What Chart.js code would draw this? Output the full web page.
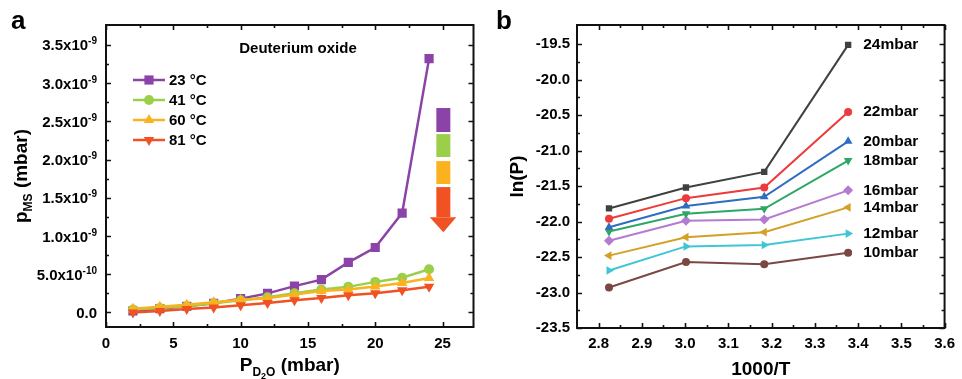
<!DOCTYPE html>
<html>
<head>
<meta charset="utf-8">
<script src="https://cdn.jsdelivr.net/npm/chart.js@4.4.1/dist/chart.umd.min.js"></script>
<style>
body { margin: 0; background: #fff; width: 962px; height: 379px; overflow: hidden; position: relative; }
canvas { position: absolute; top: 0; }
#chartA { left: 0; }
#chartB { left: 480px; }
</style>
</head>
<body>
<canvas id="chartA" width="480" height="379"></canvas>
<canvas id="chartB" width="482" height="379"></canvas>
<script>
// ---- panel a: p_MS vs P_D2O (values in units of 1e-9 mbar)
const pressures = [2, 4, 6, 8, 10, 12, 14, 16, 18, 20, 22, 24];
const pms23 = [0.02, 0.05, 0.08, 0.12, 0.18, 0.25, 0.345, 0.43, 0.655, 0.85, 1.30, 3.32];
const pms41 = [0.04, 0.06, 0.08, 0.12, 0.16, 0.20, 0.25, 0.30, 0.335, 0.40, 0.455, 0.565];
const pms60 = [0.05, 0.075, 0.10, 0.135, 0.165, 0.185, 0.235, 0.28, 0.30, 0.34, 0.385, 0.45];
const pms81 = [0.0, 0.02, 0.045, 0.065, 0.095, 0.125, 0.16, 0.19, 0.225, 0.25, 0.29, 0.335];
const tempLabels = ["23 °C", "41 °C", "60 °C", "81 °C"];
const xTicksA = [0, 5, 10, 15, 20, 25];
const yTicksA = [0, 0.5, 1.0, 1.5, 2.0, 2.5, 3.0, 3.5];
const yTickLabelsA = ["0.0", "5.0x10^-10", "1.0x10^-9", "1.5x10^-9", "2.0x10^-9", "2.5x10^-9", "3.0x10^-9", "3.5x10^-9"];

// ---- panel b: ln(P) vs 1000/T
const invT = [2.824, 3.002, 3.183, 3.377];
const ln24 = [-21.815, -21.52, -21.30, -19.51];
const ln22 = [-21.96, -21.67, -21.52, -20.455];
const ln20 = [-22.08, -21.78, -21.65, -20.87];
const ln18 = [-22.14, -21.89, -21.82, -21.14];
const ln16 = [-22.27, -21.99, -21.97, -21.56];
const ln14 = [-22.48, -22.22, -22.15, -21.80];
const ln12 = [-22.69, -22.35, -22.33, -22.17];
const ln10 = [-22.93, -22.57, -22.60, -22.44];
const mbarLabels = ["24mbar", "22mbar", "20mbar", "18mbar", "16mbar", "14mbar", "12mbar", "10mbar"];
const xTicksB = [2.8, 2.9, 3.0, 3.1, 3.2, 3.3, 3.4, 3.5, 3.6];
const yTicksB = [-23.5, -23.0, -22.5, -22.0, -21.5, -21.0, -20.5, -20.0, -19.5];

const FONT = "'Liberation Sans', Arial, sans-serif";

// frame + inward major/minor ticks on all four sides
const frameTicks = {
    id: "frameTicks",
    afterDraw(chart) {
        const { ctx, chartArea: a, scales: { x, y } } = chart;
        const minors = (majors, min, max) => {
            const step = majors[1] - majors[0];
            const out = [majors[0] - step / 2];
            majors.forEach(v => out.push(v + step / 2));
            return out.filter(v => v > min + step * 0.05 && v < max - step * 0.05);
        };
        const xMaj = x.ticks.map(t => t.value);
        const yMaj = y.ticks.map(t => t.value);
        ctx.save();
        ctx.strokeStyle = "#111";
        ctx.lineWidth = 1.6;
        const drawX = (vals, len) => vals.forEach(v => {
            const px = Math.round(x.getPixelForValue(v)) + 0.5;
            ctx.beginPath();
            ctx.moveTo(px, a.bottom); ctx.lineTo(px, a.bottom - len);
            ctx.moveTo(px, a.top); ctx.lineTo(px, a.top + len);
            ctx.stroke();
        });
        const drawY = (vals, len) => vals.forEach(v => {
            const py = Math.round(y.getPixelForValue(v)) + 0.5;
            ctx.beginPath();
            ctx.moveTo(a.left, py); ctx.lineTo(a.left + len, py);
            ctx.moveTo(a.right, py); ctx.lineTo(a.right - len, py);
            ctx.stroke();
        });
        drawX(xMaj, 5);
        drawY(yMaj, 5);
        drawX(minors(xMaj, x.min, x.max), 3);
        drawY(minors(yMaj, y.min, y.max), 3);
        ctx.lineWidth = 2;
        ctx.strokeRect(a.left, a.top, a.right - a.left, a.bottom - a.top);
        ctx.restore();
    },
};

// text made of parts with their own font and vertical shift (sub/superscripts)
function drawSubText(ctx, parts, x, y, align) {
    let w = 0;
    parts.forEach(p => { ctx.font = p.font; w += ctx.measureText(p.t).width; });
    let cx = align === "center" ? x - w / 2 : align === "right" ? x - w : x;
    ctx.textAlign = "left";
    parts.forEach(p => {
        ctx.font = p.font;
        ctx.fillText(p.t, cx, y + (p.dy || 0));
        cx += ctx.measureText(p.t).width;
    });
}

const annotA = {
    id: "annotA",
    afterDraw(chart) {
        const { ctx, chartArea: a, scales: { x, y } } = chart;
        ctx.save();
        ctx.fillStyle = "#000";
        ctx.textBaseline = "middle";
        ctx.font = `bold 26px ${FONT}`;
        ctx.textAlign = "left";
        ctx.fillText("a", 11, 22);

        // y tick labels with superscript exponents
        ctx.textBaseline = "alphabetic";
        y.ticks.forEach((t, i) => {
            const [base, exp] = yTickLabelsA[i].split("^");
            const py = y.getPixelForValue(t.value) + 5.5;
            const parts = [{ t: base, font: `bold 15px ${FONT}` }];
            if (exp) parts.push({ t: exp, font: `bold 10px ${FONT}`, dy: -6 });
            drawSubText(ctx, parts, a.left - 9, py, "right");
        });

        ctx.textBaseline = "middle";
        ctx.font = `bold 15px ${FONT}`;
        ctx.textAlign = "center";
        ctx.fillText("Deuterium oxide", 298, 49);

        // legend
        chart.data.datasets.forEach((ds, i) => {
            const ly = 80 + i * 20;
            ctx.strokeStyle = ds.borderColor;
            ctx.lineWidth = 2.5;
            ctx.beginPath();
            ctx.moveTo(133, ly); ctx.lineTo(165, ly);
            ctx.stroke();
            ctx.fillStyle = ds.borderColor;
            Chart.helpers.drawPoint(ctx, {
                pointStyle: ds.pointStyle, radius: ds.pointRadius,
                rotation: ds.pointRotation || 0, borderWidth: 0,
            }, 149, ly);
            ctx.fillStyle = "#000";
            ctx.textAlign = "left";
            ctx.font = `bold 15px ${FONT}`;
            ctx.fillText(ds.label, 169, ly + 1);
        });

        // colour arrow
        const bx0 = x.getPixelForValue(24.54), bx1 = x.getPixelForValue(25.58);
        const blocks = [[2.674, 2.36], [2.333, 2.033], [1.98, 1.68]];
        chart.data.datasets.slice(0, 3).forEach((ds, i) => {
            const t = y.getPixelForValue(blocks[i][0]), b = y.getPixelForValue(blocks[i][1]);
            ctx.fillStyle = ds.borderColor;
            ctx.fillRect(bx0, t, bx1 - bx0, b - t);
        });
        const red = chart.data.datasets[3].borderColor;
        ctx.fillStyle = red;
        const rt = y.getPixelForValue(1.64), rb = y.getPixelForValue(1.247);
        ctx.fillRect(bx0, rt, bx1 - bx0, rb - rt);
        ctx.beginPath();
        ctx.moveTo(x.getPixelForValue(24.05), rb);
        ctx.lineTo(x.getPixelForValue(26.02), rb);
        ctx.lineTo((bx0 + bx1) / 2, y.getPixelForValue(1.05));
        ctx.closePath();
        ctx.fill();

        // axis titles
        ctx.fillStyle = "#000";
        ctx.textBaseline = "alphabetic";
        drawSubText(ctx, [
            { t: "P", font: `bold 19px ${FONT}` },
            { t: "D", font: `bold 12px ${FONT}`, dy: 5 },
            { t: "2", font: `bold 9px ${FONT}`, dy: 8 },
            { t: "O", font: `bold 12px ${FONT}`, dy: 5 },
            { t: " (mbar)", font: `bold 19px ${FONT}` },
        ], (a.left + a.right) / 2, 371, "center");

        ctx.translate(27, (a.top + a.bottom) / 2);
        ctx.rotate(-Math.PI / 2);
        drawSubText(ctx, [
            { t: "p", font: `bold 19px ${FONT}` },
            { t: "MS", font: `bold 12px ${FONT}`, dy: 5 },
            { t: " (mbar)", font: `bold 19px ${FONT}` },
        ], 0, 0, "center");
        ctx.restore();
    },
};

const annotB = {
    id: "annotB",
    afterDraw(chart) {
        const { ctx, chartArea: a, scales: { x, y } } = chart;
        ctx.save();
        ctx.fillStyle = "#000";
        ctx.textBaseline = "middle";
        ctx.font = `bold 26px ${FONT}`;
        ctx.textAlign = "left";
        ctx.fillText("b", 16, 22);

        ctx.font = `bold 15.5px ${FONT}`;
        chart.data.datasets.forEach((ds) => {
            const last = ds.data[ds.data.length - 1];
            ctx.fillText(ds.label, x.getPixelForValue(last.x) + 15, y.getPixelForValue(last.y));
        });

        ctx.textBaseline = "alphabetic";
        ctx.textAlign = "center";
        ctx.font = `bold 19px ${FONT}`;
        ctx.fillText("1000/T", (a.left + a.right) / 2, 375);

        ctx.translate(43, (a.top + a.bottom) / 2);
        ctx.rotate(-Math.PI / 2);
        ctx.fillText("ln(P)", 0, 0);
        ctx.restore();
    },
};

function lineSet(label, data, color, style, radius, rotation, order) {
    return {
        label, data, order,
        borderColor: color, backgroundColor: color,
        pointBackgroundColor: color, pointBorderColor: color,
        pointStyle: style, pointRadius: radius, pointRotation: rotation || 0,
        pointBorderWidth: 0, pointHoverRadius: radius,
        borderWidth: 2.5, tension: 0,
    };
}

function tickFont(size) {
    return { family: FONT, size, weight: "bold" };
}

new Chart(document.getElementById("chartA"), {
    type: "line",
    data: {
        labels: pressures,
        datasets: [
            lineSet(tempLabels[0], pressures.map((p, i) => ({ x: p, y: pms23[i] })), "#8c43a8", "rect", 6.5, 0, 4),
            lineSet(tempLabels[1], pressures.map((p, i) => ({ x: p, y: pms41[i] })), "#9ccf49", "circle", 5, 0, 3),
            lineSet(tempLabels[2], pressures.map((p, i) => ({ x: p, y: pms60[i] })), "#fab21f", "triangle", 6, 0, 2),
            lineSet(tempLabels[3], pressures.map((p, i) => ({ x: p, y: pms81[i] })), "#f05223", "triangle", 6, 180, 1),
        ],
    },
    options: {
        responsive: false,
        animation: false,
        layout: { padding: { left: 0, top: 25, right: 1, bottom: 0 } },
        plugins: { legend: { display: false }, tooltip: { enabled: false } },
        scales: {
            x: {
                type: "linear", min: 0, max: 27.3,
                grid: { display: false, drawTicks: false }, border: { display: false },
                afterBuildTicks: s => { s.ticks = xTicksA.map(v => ({ value: v })); },
                afterFit: s => { s.height = 52; },
                ticks: { color: "#000", font: tickFont(15), padding: 8, maxRotation: 0 },
            },
            y: {
                min: -0.19, max: 3.76,
                grid: { display: false, drawTicks: false }, border: { display: false },
                afterBuildTicks: s => { s.ticks = yTicksA.map(v => ({ value: v })); },
                afterFit: s => { s.width = 106; },
                ticks: { display: false },
            },
        },
    },
    plugins: [frameTicks, annotA],
});

const seriesB = [
    [ln24, "#404040", "rect", 4.5, 0],
    [ln22, "#ee3a3a", "circle", 4, 0],
    [ln20, "#2f6cc2", "triangle", 5, 0],
    [ln18, "#2ea766", "triangle", 5, 180],
    [ln16, "#b47bd2", "rectRot", 5, 0],
    [ln14, "#d3a127", "triangle", 5, -90],
    [ln12, "#3fc6d6", "triangle", 5, 90],
    [ln10, "#7b4742", "circle", 4, 0],
];

new Chart(document.getElementById("chartB"), {
    type: "line",
    data: {
        datasets: seriesB.map(([vals, color, style, r, rot], i) => {
            const ds = lineSet(mbarLabels[i], invT.map((t, j) => ({ x: t, y: vals[j] })), color, style, r, rot, i);
            ds.borderWidth = 2;
            return ds;
        }),
    },
    options: {
        responsive: false,
        animation: false,
        layout: { padding: { left: 0, top: 25, right: 11, bottom: 0 } },
        plugins: { legend: { display: false }, tooltip: { enabled: false } },
        scales: {
            x: {
                type: "linear", min: 2.75, max: 3.6,
                grid: { display: false, drawTicks: false }, border: { display: false },
                afterBuildTicks: s => { s.ticks = xTicksB.map(v => ({ value: v })); },
                afterFit: s => { s.height = 51; },
                ticks: { color: "#000", font: tickFont(15), padding: 7, maxRotation: 0,
                         callback: v => v.toFixed(1) },
            },
            y: {
                min: -23.5, max: -19.23,
                grid: { display: false, drawTicks: false }, border: { display: false },
                afterBuildTicks: s => { s.ticks = yTicksB.map(v => ({ value: v })); },
                afterFit: s => { s.width = 97; },
                ticks: { color: "#000", font: tickFont(15), padding: 7,
                         callback: v => v.toFixed(1) },
            },
        },
    },
    plugins: [frameTicks, annotB],
});
</script>
</body>
</html>
